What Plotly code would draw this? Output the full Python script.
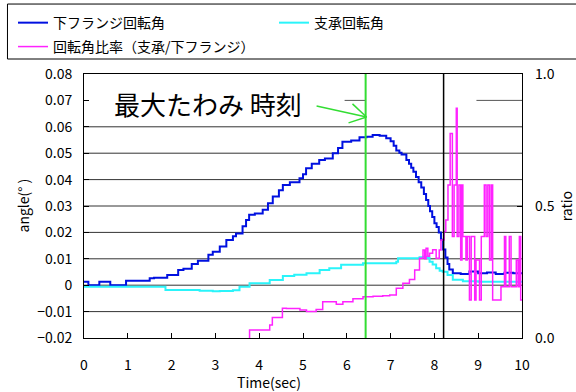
import plotly.graph_objects as go

# ---------------- data ----------------
time_flange = [0.0, 0.1, 0.35, 0.6, 0.96, 1.5, 1.6, 1.9, 2.15, 2.27, 2.46, 2.6, 2.84, 2.94, 3.1,
               3.25, 3.4, 3.47, 3.62, 3.7, 3.77, 3.9, 4.08, 4.2, 4.31, 4.45, 4.54, 4.7, 4.92, 5.0,
               5.07, 5.2, 5.37, 5.5, 5.68, 5.8, 5.9, 6.1, 6.29, 6.45, 6.59, 6.75, 6.9, 7.0, 7.07,
               7.13, 7.2, 7.25, 7.36, 7.42, 7.47, 7.52, 7.58, 7.64, 7.7, 7.76, 7.81, 7.86, 7.9,
               7.95, 8.0, 8.05, 8.1, 8.15, 8.2, 8.25, 8.3, 8.34, 8.42, 8.6, 8.8, 9.0, 9.2, 9.4,
               9.6, 9.8, 10.0]
angle_flange = [0.0013, 0.0, 0.0013, 0.0, 0.0017, 0.0026, 0.0028, 0.0039, 0.0058, 0.0062, 0.008,
                0.0093, 0.0115, 0.0127, 0.0147, 0.0171, 0.0185, 0.0196, 0.0223, 0.0247, 0.0267,
                0.0272, 0.0286, 0.031, 0.0336, 0.036, 0.038, 0.039, 0.0405, 0.042, 0.0443, 0.046,
                0.0474, 0.048, 0.05, 0.052, 0.0543, 0.0548, 0.056, 0.0562, 0.0569, 0.0566, 0.0557,
                0.0545, 0.0528, 0.051, 0.0502, 0.0495, 0.0474, 0.046, 0.0445, 0.043, 0.041, 0.039,
                0.037, 0.0345, 0.0323, 0.03, 0.028, 0.0258, 0.0235, 0.022, 0.02, 0.0172, 0.0135,
                0.0105, 0.008, 0.0059, 0.0045, 0.0042, 0.0052, 0.0045, 0.0048, 0.0042, 0.0047,
                0.0045, 0.0045]

time_bearing = [0.0, 1.86, 2.64, 2.94, 3.1, 3.4, 3.55, 3.78, 4.24, 4.54, 4.8, 5.08, 5.38, 5.6,
                5.87, 6.37, 7.13, 7.17, 7.66, 7.74, 7.82, 7.89, 7.96, 8.04, 8.12, 8.19, 8.3,
                8.42, 8.65, 9.0, 10.0]
angle_bearing = [-0.0006, -0.0018, -0.0021, -0.0023, -0.0022, -0.0019, -0.0006, 0.0007, 0.002,
                 0.0035, 0.004, 0.0045, 0.0058, 0.0064, 0.0077, 0.0083, 0.0089, 0.0102, 0.0106,
                 0.0108, 0.0103, 0.0089, 0.0078, 0.0064, 0.0055, 0.0051, 0.0039, 0.0021, 0.0015,
                 0.0013, 0.0013]

time_ratio = [3.5, 3.78, 4.24, 4.3, 4.53, 4.62, 4.93, 5.08, 5.3, 5.45, 5.6, 5.76, 5.91, 6.14,
              6.37, 6.6, 6.82, 6.98, 7.13, 7.28, 7.43, 7.55, 7.66, 7.74, 7.78, 7.81, 7.85, 7.89,
              7.96, 8.04, 8.11, 8.15, 8.22, 8.26, 8.31, 8.36, 8.41, 8.45, 8.5, 8.52, 8.56, 8.6,
              8.63, 8.65, 8.72, 8.75, 8.8, 8.84, 8.92, 8.95, 9.03, 9.07, 9.14, 9.18, 9.22, 9.26,
              9.3, 9.33, 9.52, 9.6, 9.63, 9.71, 9.75, 9.87, 9.91, 9.94, 9.97, 10.0]
ratio_values = [-0.1, 0.03, 0.049, 0.078, 0.1125, 0.112, 0.106, 0.1, 0.108, 0.1375, 0.1375,
                0.128, 0.1375, 0.149, 0.156, 0.158, 0.16, 0.163, 0.188, 0.207, 0.222, 0.258,
                0.302, 0.333, 0.30, 0.34, 0.31, 0.321, 0.334, 0.302, 0.333, 0.371, 0.403, 0.447,
                0.58, 0.775, 0.384, 0.58, 0.87, 0.384, 0.58, 0.295, 0.58, 0.384, 0.295, 0.384,
                0.144, 0.384, 0.144, 0.295, 0.144, 0.384, 0.58, 0.384, 0.58, 0.295, 0.58, 0.144,
                0.194, 0.384, 0.194, 0.384, 0.194, 0.295, 0.194, 0.384, 0.144, 0.144]

max_deflection_time = 6.43
end_marker_time = 8.21

x_tick_values = list(range(0, 11))
angle_tick_values = [-0.02, -0.01, 0.0, 0.01, 0.02, 0.03, 0.04, 0.05, 0.06, 0.07, 0.08]
angle_tick_text = ["\u22120.02", "\u22120.01", "0", "0.01", "0.02", "0.03", "0.04", "0.05",
                   "0.06", "0.07", "0.08"]
grid_values = [-0.01, 0.0, 0.01, 0.02, 0.03, 0.04, 0.05, 0.06]
ratio_tick_values = [0.0, 0.5, 1.0]
ratio_tick_text = ["0.0", "0.5", "1.0"]

FONT = "Noto Sans CJK JP"

fig = go.Figure()
fig.add_trace(go.Scatter(x=time_flange, y=angle_flange, mode="lines", line_shape="hv",
                         name="下フランジ回転角", legend="legend",
                         line=dict(color="#0010e0", width=2)))
fig.add_trace(go.Scatter(x=time_bearing, y=angle_bearing, mode="lines", line_shape="hv",
                         name="支承回転角", legend="legend2",
                         line=dict(color="#2af4fa", width=2)))
fig.add_trace(go.Scatter(x=time_ratio, y=ratio_values, mode="lines", line_shape="hv",
                         name="回転角比率（支承/下フランジ）", yaxis="y2", legend="legend3",
                         line=dict(color="#ff22ff", width=1.5)))

shapes = []
for g in grid_values:
    shapes.append(dict(type="line", xref="x", yref="y", x0=0, x1=10, y0=g, y1=g,
                       line=dict(color="#333333", width=1), layer="below"))
# partially visible 0.07 gridline
shapes.append(dict(type="line", xref="x", yref="y", x0=5.95, x1=max_deflection_time, y0=0.07,
                   y1=0.07, line=dict(color="#555555", width=1), layer="below"))
shapes.append(dict(type="line", xref="x", yref="y", x0=8.96, x1=10, y0=0.07, y1=0.07,
                   line=dict(color="#555555", width=1), layer="below"))
# event lines
shapes.append(dict(type="line", xref="x", yref="paper", x0=max_deflection_time,
                   x1=max_deflection_time, y0=0, y1=1, line=dict(color="#33dd33", width=2),
                   layer="above"))
shapes.append(dict(type="line", xref="x", yref="paper", x0=end_marker_time, x1=end_marker_time,
                   y0=0, y1=1, line=dict(color="#000000", width=1.5), layer="above"))
# arrow (green)
arrow_color = "#33dd33"
shapes.append(dict(type="line", xref="x", yref="y", x0=5.31, y0=0.0679, x1=6.45, y1=0.0637,
                   line=dict(color=arrow_color, width=1.5), layer="above"))
shapes.append(dict(type="line", xref="x", yref="y", x0=6.13, y0=0.0687, x1=6.45, y1=0.0637,
                   line=dict(color=arrow_color, width=1.5), layer="above"))
shapes.append(dict(type="line", xref="x", yref="y", x0=6.04, y0=0.0615, x1=6.45, y1=0.0637,
                   line=dict(color=arrow_color, width=1.5), layer="above"))
# legend frame
shapes.append(dict(type="rect", xref="paper", yref="paper", x0=-0.1747, x1=1.125, y0=1.0568,
                   y1=1.265, line=dict(color="#000000", width=1), fillcolor="rgba(0,0,0,0)"))

annotations = [
    dict(text="最大たわみ 時刻", x=2.82, y=0.0687, xref="x", yref="y", showarrow=False,
         font=dict(family=FONT, size=26, color="#000000")),
    dict(text="angle(° )", x=-0.1404, y=0.5, xref="paper", yref="paper", showarrow=False,
         xanchor="center", yanchor="middle", textangle=-90,
         font=dict(family=FONT, size=14, color="#000000")),
    dict(text="ratio", x=1.101, y=0.5, xref="paper", yref="paper", showarrow=False,
         xanchor="center", yanchor="middle", textangle=-90,
         font=dict(family=FONT, size=14, color="#000000")),
    dict(text="Time(sec)", x=0.4235, y=-0.166, xref="paper", yref="paper", showarrow=False,
         xanchor="center", yanchor="middle", font=dict(family=FONT, size=14, color="#000000")),
]

legend_common = dict(orientation="h", xref="container", yref="container", xanchor="left",
                     yanchor="top", bgcolor="rgba(0,0,0,0)", borderwidth=0,
                     font=dict(family=FONT, size=14), itemwidth=30)

fig.update_layout(
    width=576, height=392,
    margin=dict(l=84, r=54, t=74, b=54, pad=0, autoexpand=False),
    paper_bgcolor="white", plot_bgcolor="white",
    font=dict(family=FONT, size=14, color="#000000"),
    showlegend=True,
    legend=dict(x=13 / 576, y=0.982, **legend_common),
    legend2=dict(x=274 / 576, y=0.982, **legend_common),
    legend3=dict(x=13 / 576, y=0.921, **legend_common),
    xaxis=dict(range=[0, 10], tickvals=x_tick_values, ticks="inside", ticklen=5,
               tickcolor="#000000", showline=True, linecolor="#000000", linewidth=1,
               mirror=True, showgrid=False, zeroline=False, ticklabelstandoff=14,
               tickfont=dict(size=14)),
    yaxis=dict(range=[-0.02, 0.08], tickvals=angle_tick_values, ticktext=angle_tick_text,
               ticks="inside", ticklen=5, tickcolor="#000000", showline=True,
               linecolor="#000000", linewidth=1, mirror=True, showgrid=False, zeroline=False,
               ticklabelstandoff=8, tickfont=dict(size=14)),
    yaxis2=dict(range=[0, 1], overlaying="y", side="right", tickvals=ratio_tick_values,
                ticktext=ratio_tick_text, ticks="inside", ticklen=5, tickcolor="#000000",
                showline=False, showgrid=False, zeroline=False, ticklabelstandoff=12,
                tickfont=dict(size=14)),
    shapes=shapes,
    annotations=annotations,
)

fig.write_html("out.html", config={"displayModeBar": False},
               post_script="document.body.style.margin='0px';document.body.style.overflow='hidden';")
